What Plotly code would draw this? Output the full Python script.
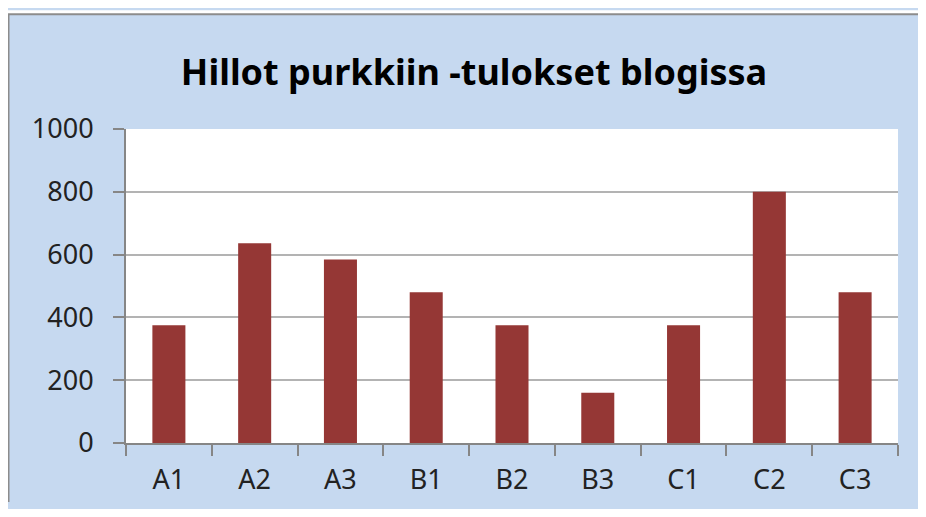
import plotly.graph_objects as go

# data
categories = ["A1", "A2", "A3", "B1", "B2", "B3", "C1", "C2", "C3"]
values = [375, 636, 584, 480, 375, 160, 375, 800, 480]
y_ticks = [0, 200, 400, 600, 800, 1000]

# the page body adds an 8px margin on each side, so the figure is 16px smaller
W, H = 910, 501
L, R, T, B = 118, 20, 121, 60
pw, ph = W - L - R, H - T - B

BLUE = "#c6d9f0"
BAR = "#953735"
FONT = "Noto Sans"


def px_x(x):
    return (x - L) / pw


def px_y(y):
    return (H - B - y) / ph


fig = go.Figure(
    go.Bar(x=categories, y=values, marker=dict(color=BAR, line=dict(width=0)))
)

frame = [
    # white strip above the chart frame, then the grey frame edges
    dict(type="rect", x0=px_x(0), x1=px_x(W), y0=px_y(0), y1=px_y(4),
         fillcolor="white", line_width=0),
    dict(type="line", x0=px_x(0), x1=px_x(W), y0=px_y(4), y1=px_y(4),
         line=dict(color="#8c8c8c", width=2)),
    dict(type="line", x0=px_x(0.5), x1=px_x(0.5), y0=px_y(4), y1=px_y(H),
         line=dict(color="#8c8c8c", width=2)),
]
for s in frame:
    s.update(xref="paper", yref="paper", layer="below")

fig.update_layout(
    width=W, height=H,
    margin=dict(l=L, r=R, t=T, b=B),
    paper_bgcolor=BLUE,
    plot_bgcolor="white",
    font=dict(family=FONT, color="#222222", size=27),
    bargap=0.615,
    showlegend=False,
    shapes=frame,
    title=dict(
        text="<b>Hillot purkkiin -tulokset blogissa</b>",
        x=466 / W, xanchor="center", xref="container",
        y=1 - 64 / H, yanchor="middle", yref="container",
        font=dict(family=FONT, size=36, color="#000000"),
    ),
)

fig.update_xaxes(
    type="category",
    showline=True, linecolor="#868686", linewidth=2,
    ticks="outside", tickson="boundaries", ticklen=11, tickwidth=2,
    tickcolor="#868686", ticklabelstandoff=12,
    showgrid=False,
)
fig.update_yaxes(
    range=[0, 1000], tickvals=y_ticks,
    showline=True, linecolor="#868686", linewidth=2,
    ticks="outside", ticklen=11, tickwidth=2, tickcolor="#868686",
    ticklabelstandoff=14,
    showgrid=True, gridcolor="#b3b3b3", gridwidth=2,
    zeroline=False,
)

fig.write_html("out.html")
